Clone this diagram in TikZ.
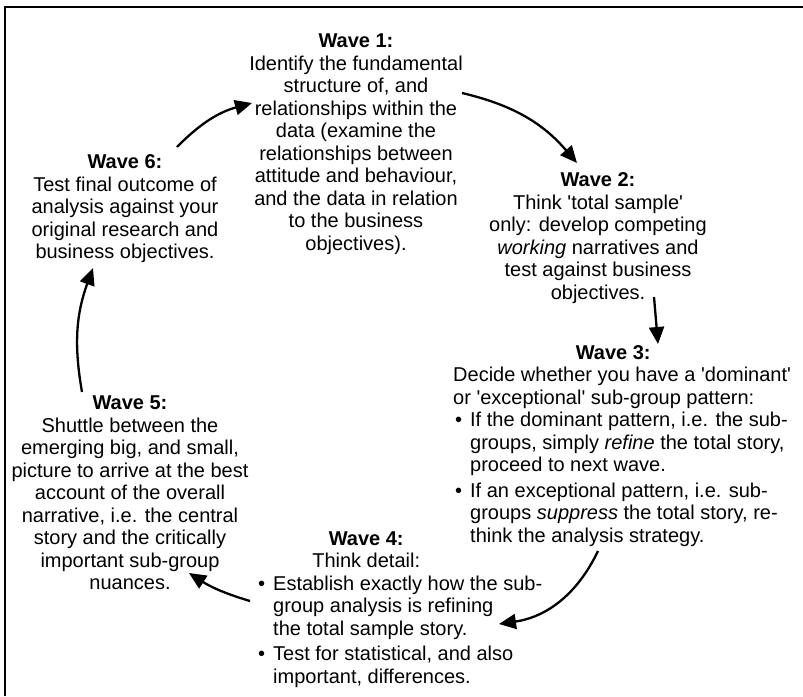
\documentclass[tikz,border=0pt]{standalone}
\usepackage{fontspec}
\setmainfont{Liberation Sans}[Ligatures=TeXOff]
\usetikzlibrary{arrows.meta}
\newcommand{\bul}{\makebox[17pt][l]{\hspace{2pt}\textbullet}}
\begin{document}
\begin{tikzpicture}[x=1pt,y=-1pt,
  txt/.style={inner sep=0pt, font=\fontsize{20}{22.5}\selectfont, align=center},
  tab/.style={inner sep=0pt, font=\fontsize{20}{22.5}\selectfont},
  arr/.style={line width=2.3pt,-{Triangle[length=17pt,width=15pt]}},
  frame/.style={line width=1.6pt}]
\useasboundingbox (0,0) rectangle (803,696);
\draw[frame] (5,696) -- (5,6.7) -- (803,6.7);

\node[txt,anchor=north] (w1) at (356,33.8) {\textbf{Wave 1:}\\Identify the fundamental\\structure of, and\\relationships within the\\data (examine the\\relationships between\\attitude and behaviour,\\and the data in relation\\to the business\\objectives).};

\node[txt,anchor=north] (w2) at (598,172.8) {\textbf{Wave 2:}\\Think 'total sample'\\only: develop competing\\\textit{working} narratives and\\test against business\\objectives.};

\node[tab,anchor=north west] (w3) at (453,343.5) {\renewcommand{\arraystretch}{1}%
\begin{tabular}{@{}l@{}l@{}}
\multicolumn{2}{@{}l@{}}{\hspace{160pt}\makebox[0pt]{\bfseries Wave 3:}}\\
\multicolumn{2}{@{}l@{}}{Decide whether you have a 'dominant'}\\
\multicolumn{2}{@{}l@{}}{or 'exceptional' sub-group pattern:}\\
\bul & If the dominant pattern, i.e. the sub-\\
 & groups, simply \textit{refine} the total story,\\
 & proceed to next wave.\\[3pt]
\bul & If an exceptional pattern, i.e. sub-\\
 & groups \textit{suppress} the total story, re-\\
 & think the analysis strategy.
\end{tabular}};

\node[tab,anchor=north west] (w4) at (256,529.5) {\renewcommand{\arraystretch}{1}%
\begin{tabular}{@{}l@{}l@{}}
\multicolumn{2}{@{}l@{}}{\hspace{110pt}\makebox[0pt]{\bfseries Wave 4:}}\\
\multicolumn{2}{@{}l@{}}{\hspace{110pt}\makebox[0pt]{Think detail:}}\\
\bul & Establish exactly how the sub-\\
 & group analysis is refining\\
 & the total sample story.\\[3pt]
\bul & Test for statistical, and also\\
 & important, differences.
\end{tabular}};

\node[txt,anchor=north] (w5) at (130,395.8) {\textbf{Wave 5:}\\Shuttle between the\\emerging big, and small,\\picture to arrive at the best\\account of the overall\\narrative, i.e. the central\\story and the critically\\important sub-group\\nuances.};

\node[txt,anchor=north] (w6) at (125,154.8) {\textbf{Wave 6:}\\Test final outcome of\\analysis against your\\original research and\\business objectives.};

\coordinate (s12) at (462,93);  \coordinate (e12) at (577,163);
\coordinate (s23) at (654,297); \coordinate (e23) at (658,344);
\coordinate (s34) at (598,551); \coordinate (e34) at (499,624);
\coordinate (s45) at (250,601); \coordinate (e45) at (189,573);
\coordinate (s56) at (82,392);  \coordinate (e56) at (93,268);
\coordinate (s61) at (177,147); \coordinate (e61) at (252,103);

\draw[arr] (s12) to[bend left=18] (e12);
\draw[arr] (s23) -- (e23);
\draw[arr] (s34) to[bend left=28] (e34);
\draw[arr] (s45) to[bend left=8] (e45);
\draw[arr] (s56) to[bend left=15] (e56);
\draw[arr] (s61) to[bend left=15] (e61);
\end{tikzpicture}
\end{document}
